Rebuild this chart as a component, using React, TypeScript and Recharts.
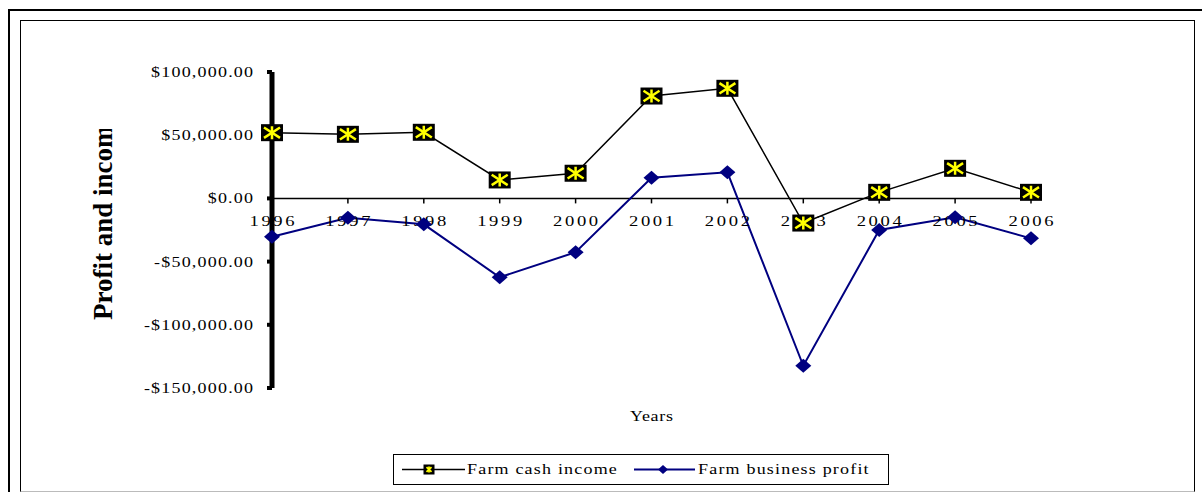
import React from 'react';
import { LineChart, Line, XAxis, YAxis, ReferenceLine, ReferenceDot, Legend } from 'recharts';

const years = ['1996', '1997', '1998', '1999', '2000', '2001', '2002', '2003', '2004', '2005', '2006'];
const farmCashIncome = [52000, 50700, 52300, 14600, 19900, 81000, 87100, -19500, 4800, 23800, 4800];
const farmBusinessProfit = [-30300, -15300, -20500, -62400, -42600, 16400, 20600, -132400, -25000, -15000, -31600];
const yTicks = [-150000, -100000, -50000, 0, 50000, 100000];
const seriesNames = ['Farm cash income', 'Farm business profit'];

const data = years.map((year, i) => ({
  year,
  cash: farmCashIncome[i],
  profit: farmBusinessProfit[i],
}));

const FONT = '"Liberation Serif", "Times New Roman", serif';
const NAVY = '#000080';

const fmtMoney = (v: number) => {
  const abs = Math.abs(v).toLocaleString('en-US', { minimumFractionDigits: 2, maximumFractionDigits: 2 });
  return (v < 0 ? '-$' : '$') + abs;
};

function WideText({ x, y, anchor = 'start', ls = 1, sx = 1.2, size = 15, children }: any) {
  const dx = anchor === 'end' ? ls : anchor === 'middle' ? ls / 2 : 0;
  return (
    <text
      transform={`translate(${x},${y}) scale(${sx},1)`}
      x={dx}
      y={0}
      textAnchor={anchor}
      fontFamily={FONT}
      fontSize={size}
      letterSpacing={ls}
      fill="#000"
    >
      {children}
    </text>
  );
}

function StarMarker({ cx, cy, w = 22, h = 17, sw = 2.5 }: any) {
  const ix = w / 2 - 3;
  const iy = h / 2 - 2;
  return (
    <g>
      <rect x={cx - w / 2} y={cy - h / 2} width={w} height={h} fill="#000" />
      <line x1={cx} y1={cy - iy} x2={cx} y2={cy + iy} stroke="#FFFF00" strokeWidth={sw} />
      <line x1={cx - ix} y1={cy - iy * 0.8} x2={cx + ix} y2={cy + iy * 0.8} stroke="#FFFF00" strokeWidth={sw} />
      <line x1={cx - ix} y1={cy + iy * 0.8} x2={cx + ix} y2={cy - iy * 0.8} stroke="#FFFF00" strokeWidth={sw} />
    </g>
  );
}

function Diamond({ cx, cy, hw = 8, hh = 7 }: any) {
  return (
    <path
      d={`M${cx},${cy - hh} L${cx + hw},${cy} L${cx},${cy + hh} L${cx - hw},${cy} Z`}
      fill={NAVY}
    />
  );
}

const renderStar = (props: any) => {
  const { cx, cy, index } = props;
  if (cx == null || cy == null) return <g key={`s-${index}`} />;
  return (
    <g key={`s-${index}`}>
      <StarMarker cx={cx} cy={cy} />
    </g>
  );
};

const renderDiamond = (props: any) => {
  const { cx, cy, index } = props;
  if (cx == null || cy == null) return <g key={`d-${index}`} />;
  return (
    <g key={`d-${index}`}>
      <Diamond cx={cx} cy={cy} />
    </g>
  );
};

const renderYTick = (props: any) => {
  const { x, y, payload } = props;
  return (
    <g>
      <WideText x={x} y={y + 5} anchor="end" ls={1} sx={1.2} size={15}>
        {fmtMoney(payload.value)}
      </WideText>
    </g>
  );
};

const renderYLabel = () => {
  const bx = 112;
  const by = 320;
  return (
    <g>
      <defs>
        <clipPath id="ylabel-clip">
          <rect x={80} y={129} width={45} height={230} />
        </clipPath>
      </defs>
      <g clipPath="url(#ylabel-clip)">
        <text
          transform={`translate(${bx},${by}) rotate(-90)`}
          fontFamily={FONT}
          fontWeight="bold"
          fontSize={27}
          fill="#000"
        >
          Profit and income
        </text>
      </g>
    </g>
  );
};

const renderXLabel = (props: any) => {
  const vb = props.viewBox || { x: 0, y: 0, width: 0 };
  return (
    <WideText x={vb.x + vb.width / 2} y={vb.y + 33} anchor="middle" ls={0.6} sx={1.2} size={15}>
      Years
    </WideText>
  );
};

const makeYearTick = (year: string) => (props: any) => {
  const { cx, cy } = props;
  return (
    <g>
      <line x1={cx} y1={cy} x2={cx} y2={cy + 5} stroke="#000" strokeWidth={1.5} />
      <WideText x={cx} y={cy + 28} anchor="middle" ls={2.2} sx={1.2} size={15.5}>
        {year}
      </WideText>
    </g>
  );
};

const renderLegend = (props: any) => {
  const payload = props.payload || [];
  const find = (key: string, fallback: string) =>
    (payload.find((p: any) => p.dataKey === key) || {}).value ?? fallback;
  const name0 = find('cash', seriesNames[0]);
  const name1 = find('profit', seriesNames[1]);
  return (
    <svg width={496} height={31} style={{ display: 'block' }}>
      <rect x={0.5} y={0.5} width={495} height={30} fill="#fff" stroke="#000" strokeWidth={1} />
      <line x1={9} y1={15.5} x2={72} y2={15.5} stroke="#000" strokeWidth={1.5} />
      <StarMarker cx={36} cy={15.5} w={11} h={10} sw={1.8} />
      <WideText x={74} y={20} ls={1} sx={1.2} size={15}>{name0}</WideText>
      <line x1={241} y1={15.5} x2={302} y2={15.5} stroke={NAVY} strokeWidth={2} />
      <Diamond cx={270} cy={15.5} hw={5} hh={4.5} />
      <WideText x={305} y={20} ls={1} sx={1.2} size={15}>{name1}</WideText>
    </svg>
  );
};

export default function App() {
  return (
    <div style={{ position: 'relative', width: 1202, height: 492, overflow: 'hidden', background: '#fff' }}>
      <style>{`html,body{margin:0;padding:0;overflow:hidden;}`}</style>
      <div
        style={{
          position: 'absolute',
          left: 8,
          top: 9,
          width: 1194,
          height: 483,
          borderTop: '2px solid #000',
          borderLeft: '2px solid #000',
          boxSizing: 'border-box',
        }}
      />
      <div
        style={{
          position: 'absolute',
          left: 20,
          top: 20,
          width: 1175,
          height: 472,
          borderTop: '1px solid #000',
          borderLeft: '1px solid #000',
          borderRight: '1px solid #000',
          borderBottom: '1px solid #bbb',
          boxSizing: 'border-box',
        }}
      />
      <div style={{ position: 'absolute', left: 0, top: 0 }}>
        <LineChart
          width={1202}
          height={492}
          data={data}
          margin={{ top: 72, right: 171, bottom: 64, left: 0 }}
        >
          <XAxis
            dataKey="year"
            axisLine={false}
            tickLine={false}
            tick={false}
            height={40}
            label={{ content: renderXLabel } as any}
          />
          <YAxis
            type="number"
            domain={[-150000, 100000]}
            ticks={yTicks}
            interval={0}
            width={272}
            axisLine={{ stroke: '#000', strokeWidth: 5 }}
            tickLine={{ stroke: '#000', strokeWidth: 4 }}
            tickSize={5}
            tickMargin={14}
            tick={renderYTick}
            allowDataOverflow
            label={{ content: renderYLabel } as any}
          />
          <ReferenceLine y={0} stroke="#000" strokeWidth={1.5} />
          {years.map((yr) => (
            <ReferenceDot key={yr} x={yr} y={0} r={0} shape={makeYearTick(yr)} ifOverflow="visible" />
          ))}
          <Line
            type="linear"
            dataKey="cash"
            name={seriesNames[0]}
            stroke="#000"
            strokeWidth={1.5}
            dot={renderStar}
            activeDot={false}
            isAnimationActive={false}
          />
          <Line
            type="linear"
            dataKey="profit"
            name={seriesNames[1]}
            stroke={NAVY}
            strokeWidth={2}
            dot={renderDiamond}
            activeDot={false}
            isAnimationActive={false}
          />
          <Legend
            layout="horizontal"
            verticalAlign="middle"
            align="center"
            wrapperStyle={{ left: 393, top: 454, width: 496, height: 31 }}
            content={renderLegend}
          />
        </LineChart>
      </div>
    </div>
  );
}
